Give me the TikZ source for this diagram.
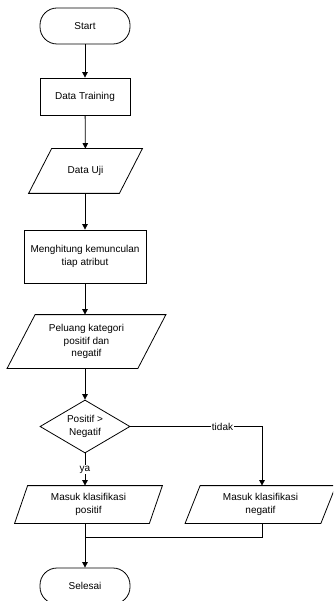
\documentclass[tikz,border=0pt]{standalone}
\usepackage{fontspec}
\setmainfont{Liberation Sans}
\usepackage{tikz}
\usetikzlibrary{arrows.meta,positioning,calc,shapes.geometric}

\tikzset{
    terminal/.style={draw, rounded corners=17pt, minimum width=90pt, minimum height=36pt, inner sep=0pt},
    proses/.style={draw, rectangle, inner sep=0pt, align=center},
    data/.style={rectangle, inner sep=0pt, align=center},
    cek/.style={draw, diamond, aspect=1.7, minimum width=90pt, minimum height=53pt, inner sep=0pt, align=center},
    panah/.style={-{Triangle[width=5.5pt,length=5.5pt]}},
    label/.style={fill=white, inner sep=1pt}
}

\begin{document}
\begin{tikzpicture}[x=1pt, y=-1pt, line width=0.8pt, font=\fontsize{10}{12.5}\selectfont]
    \clip (0,0) rectangle (333,601);
    \node [terminal] (start) at (85,26) {Start};
    \node [proses, minimum width=90pt, minimum height=37pt] (training) at (85,96.5) {Data Training};
    \node [data, minimum width=90pt, minimum height=44pt] (uji) at (85.5,171) {Data Uji};
    \node [proses, minimum width=122pt, minimum height=53pt] (hitung) at (85,256.5) {Menghitung kemunculan\\tiap atribut};
    \node [data, minimum width=130pt, minimum height=53pt] (peluang) at (86.5,341.5) {Peluang kategori\\positif dan\\negatif};
    \node [cek] (banding) at (85,426.5) {Positif >\\Negatif};
    \node [data, minimum width=134pt, minimum height=37pt] (positif) at (88.5,504.5) {Masuk klasifikasi\\positif};
    \node [data, minimum width=135pt, minimum height=37pt] (negatif) at (260.5,504.5) {Masuk klasifikasi\\negatif};
    \node [terminal] (selesai) at (85,586) {Selesai};
    \coordinate (belok) at (262,426.5);
    \coordinate (gabung) at (85,537);

    % jajaran genjang untuk input/output
    \foreach \n/\s in {uji/23, peluang/28, positif/13, negatif/15}
        \draw ($(\n.north west)+(\s/2,0)$) -- ($(\n.north east)+(\s/2,0)$)
            -- ($(\n.south east)-(\s/2,0)$) -- ($(\n.south west)-(\s/2,0)$) -- cycle;

    % alur utama
    \draw [panah] (start) -- (training);
    \draw [panah] (training) -- (uji);
    \draw [panah] (uji.south -| training) -- (hitung);
    \draw [panah] (hitung) -- (peluang.north -| hitung);
    \draw [panah] (peluang.south -| hitung) -- (banding);
    \draw [panah] (banding.south) -- node [label] {ya} (banding.south |- positif.north);
    \draw [panah] (banding.east) -- node [label, pos=0.7] {tidak} (belok) -- (belok |- negatif.north);
    \draw (belok |- negatif.south) |- (gabung);
    \draw [panah] (gabung |- positif.south) -- (selesai);
\end{tikzpicture}
\end{document}
